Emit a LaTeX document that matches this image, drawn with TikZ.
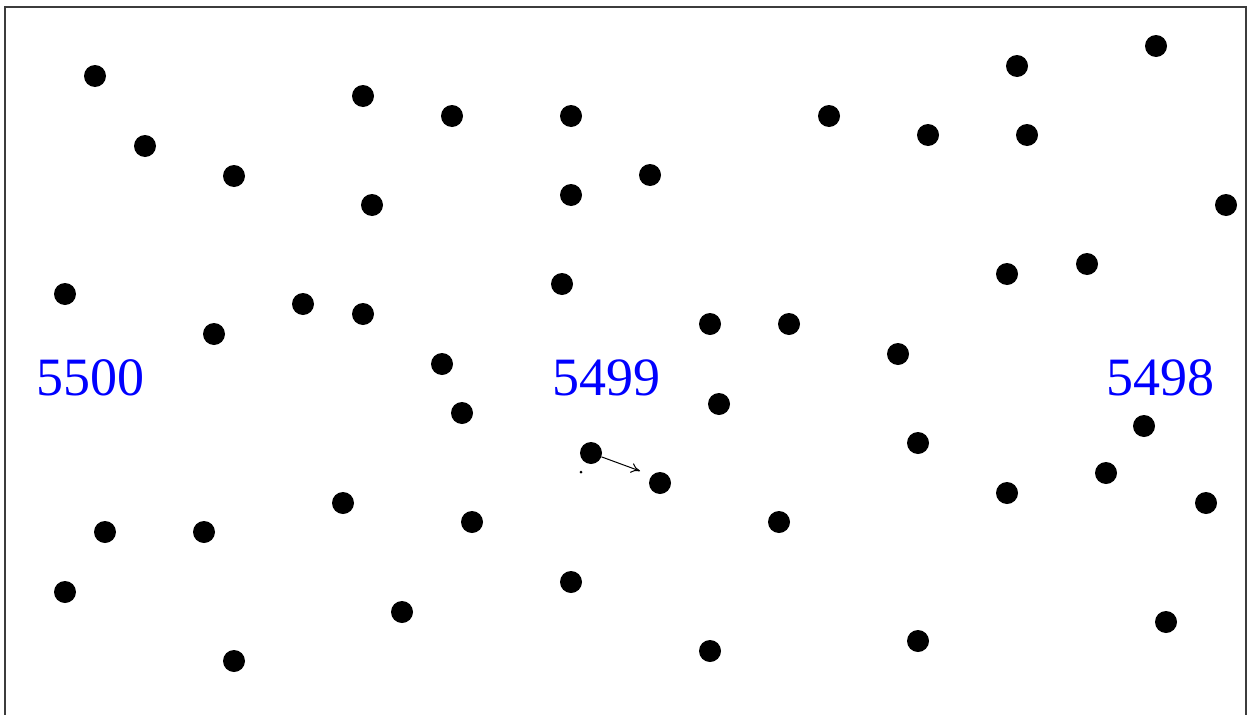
\documentclass[tikz,border=0pt]{standalone}
\usepackage{fontspec}
\setmainfont{Liberation Serif}
\usetikzlibrary{arrows.meta}
\definecolor{lblblue}{RGB}{0,0,255}
\definecolor{framegray}{RGB}{60,60,60}
\tikzset{
  dot/.style={circle,fill=black,inner sep=0pt,minimum size=22pt},
  lbl/.style={text=lblblue,anchor=base,inner sep=0pt,font=\fontsize{54}{60}\selectfont},
  frameline/.style={draw=framegray,line width=2pt},
  motion/.style={line width=1pt,-{To[length=9pt,width=10pt]}}
}
\begin{document}
\begin{tikzpicture}[x=1pt,y=-1pt]
\useasboundingbox (0,0) rectangle (1254,715);
\draw[frameline] (5,716) -- (5,6.5) -- (1246,6.5) -- (1246,716);
\foreach \n/\x/\y in {
 1/95/76, 2/145/146, 3/234/176, 4/363/96, 5/452/116, 6/571/116, 7/372/205,
 8/571/195, 9/650/175, 10/829/116, 11/928/135, 12/1017/66, 13/1156/46,
 14/1027/135, 15/1226/205, 16/65/294, 17/214/334, 18/303/304, 19/363/314,
 20/562/284, 21/442/364, 22/462/413, 23/710/324, 24/789/324, 25/898/354,
 26/1007/274, 27/1087/264, 28/719/404, 29/918/443, 30/1144/426, 31/591/453,
 32/660/483, 33/1106/473, 34/1007/493, 35/1206/503, 36/343/503, 37/472/522,
 38/105/532, 39/204/532, 40/779/522, 41/65/592, 42/571/582, 43/402/612,
 44/234/661, 45/710/651, 46/918/641, 47/1166/622}
  \node[dot] (d\n) at (\x,\y) {};
\node[lbl] (l5500) at (90,395) {5500};
\node[lbl] (l5499) at (606,395) {5499};
\node[lbl] (l5498) at (1160,395) {5498};
\coordinate (tip) at (640,471);
\draw[motion] (d31) -- (tip);
\fill (581,472) circle (1.5pt);
\end{tikzpicture}
\end{document}
